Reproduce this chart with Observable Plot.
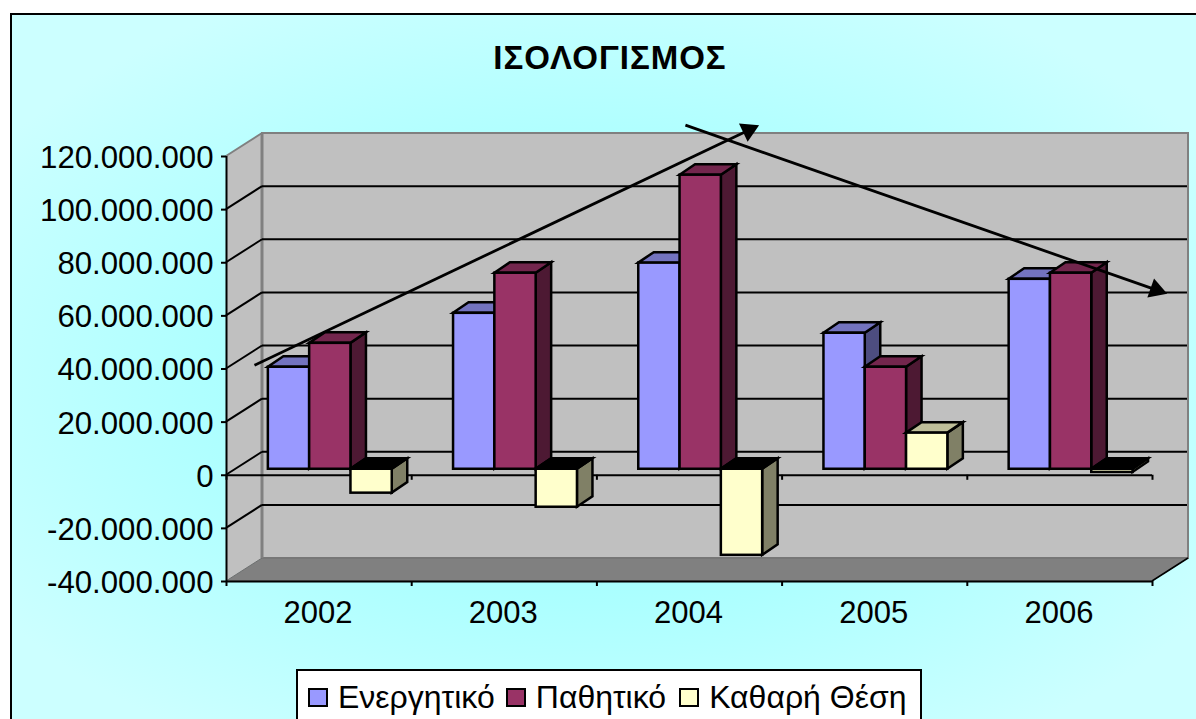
<!DOCTYPE html>
<html lang="el">
<head>
<meta charset="utf-8">
<script src="https://cdn.jsdelivr.net/npm/d3@7"></script>
<script src="https://cdn.jsdelivr.net/npm/@observablehq/plot@0.6"></script>
<style>
  html, body { margin: 0; padding: 0; width: 1196px; height: 719px; overflow: hidden; background: #fff; }
  #frame {
    position: absolute; left: 10px; top: 13px; width: 1300px; height: 800px;
    border-left: 2px solid #000; border-top: 2px solid #000;
    background: radial-gradient(ellipse 720px 430px at 590px 365px, #a8ffff 45%, #ccffff 100%);
    font-family: "Liberation Sans", Arial, sans-serif; color: #000;
  }
  #title { width: 1196px; height: 91px; box-sizing: border-box; padding: 24px 0 0 0; text-align: center;
    font-size: 33px; letter-spacing: 1px; font-weight: bold; line-height: 38px; position: relative; }
  #chart svg { display: block; }
  #legend {
    position: relative; margin: 33px 0 0 284px; width: 622px; height: 60px; background: #fff;
    border: 2px solid #000; box-sizing: content-box; white-space: nowrap;
    display: flex; align-items: flex-start; padding: 0; font-size: 32px; line-height: 34px;
  }
  #legend .item { display: flex; align-items: center; margin-top: 9px; }
  #legend .sw { display: inline-block; width: 16px; height: 15px; border: 2px solid #000; margin: 0 10px 0 0; }
</style>
</head>
<body>
<div id="frame">
  <div id="title"></div>
  <div id="chart"></div>
  <div id="legend"></div>
</div>
<script>
const titleText = "ΙΣΟΛΟΓΙΣΜΟΣ";
const years = [2002, 2003, 2004, 2005, 2006];
const seriesNames = ["Ενεργητικό", "Παθητικό", "Καθαρή Θέση"];
const assets      = [38400000, 58700000, 77600000, 51200000, 71500000];
const liabilities = [47400000, 73800000, 110700000, 38400000, 73800000];
const equity      = [-9000000, -14300000, -32400000, 13600000, -1200000];
const frontColors = ["#9999ff", "#993366", "#ffffcc"];
const topColors   = ["#7373bf", "#73264d", "#bfbf99"];
const sideColors  = ["#4d4d80", "#4d1933", "#808066"];
const yTicks = [-40000000, -20000000, 0, 20000000, 40000000, 60000000, 80000000, 100000000, 120000000];
const gridValues = [-20000000, 0, 20000000, 40000000, 60000000, 80000000, 100000000];
const yearEdges = [2001.5, 2002.5, 2003.5, 2004.5, 2005.5, 2006.5];
const trendUp   = {x1: 2001.651, y1: 41400000, x2: 2004.319, y2: 129900000, rotate: 64.6};
const trendDown = {x1: 2003.978, y1: 131800000, x2: 2006.52, y2: 69800000, rotate: 109.3};

const wallDx = 36, wallDy = -23;      // depth of the chart box, px
const barDx = 15.5, barDy = -10.5;    // depth of each bar, px
const rowDx = 10, rowDy = -6;         // position of the bar row within the box, px
const barSpan = 0.223, groupStart = -0.328;
const barStroke = 2.5;

const NS = "http://www.w3.org/2000/svg";
function poly(g, pts, fill, stroke, sw) {
  const p = document.createElementNS(NS, "polygon");
  p.setAttribute("points", pts.map(d => d.join(",")).join(" "));
  p.setAttribute("fill", fill);
  if (stroke) { p.setAttribute("stroke", stroke); p.setAttribute("stroke-width", sw); }
  g.appendChild(p);
}
function line(g, a, b, stroke, sw) {
  const l = document.createElementNS(NS, "line");
  l.setAttribute("x1", a[0]); l.setAttribute("y1", a[1]);
  l.setAttribute("x2", b[0]); l.setAttribute("y2", b[1]);
  l.setAttribute("stroke", stroke); l.setAttribute("stroke-width", sw);
  g.appendChild(l);
}

// the box: side wall, back wall, floor and gridlines
function walls(index, {x, y}) {
  const g = document.createElementNS(NS, "g");
  const x0 = x(yearEdges[0]), x1 = x(yearEdges[yearEdges.length - 1]);
  const yb = y(yTicks[0]), yt = y(yTicks[yTicks.length - 1]);
  poly(g, [[x0, yb], [x0 + wallDx, yb + wallDy], [x0 + wallDx, yt + wallDy], [x0, yt]], "#c0c0c0");
  poly(g, [[x0 + wallDx, yb + wallDy], [x1 + wallDx, yb + wallDy], [x1 + wallDx, yt + wallDy], [x0 + wallDx, yt + wallDy]], "#c0c0c0", "#808080", 2);
  poly(g, [[x0, yb], [x0 + wallDx, yb + wallDy], [x1 + wallDx, yb + wallDy], [x1, yb]], "#808080", "#6e6e6e", 1);
  line(g, [x0, yt], [x0 + wallDx, yt + wallDy], "#808080", 2);
  line(g, [x1, yb], [x1 + wallDx, yb + wallDy], "#000", 1.5);
  line(g, [x0 + wallDx, yb + wallDy], [x0 + wallDx, yt + wallDy], "#808080", 3);
  for (const v of gridValues) {
    line(g, [x0, y(v)], [x0 + wallDx, y(v) + wallDy], "#000", 2);
    line(g, [x0 + wallDx, y(v) + wallDy], [x1 + wallDx - 1, y(v) + wallDy], "#000", 2);
  }
  return g;
}

// side and top faces of one series
function faces(values, k) {
  return function (index, {x, y}) {
    const g = document.createElementNS(NS, "g");
    values.forEach((v, i) => {
      const xa = x(years[i] + groupStart + k * barSpan) + rowDx;
      const xb = x(years[i] + groupStart + (k + 1) * barSpan) + rowDx;
      const yTop = Math.min(y(0), y(v)) + rowDy, yBot = Math.max(y(0), y(v)) + rowDy;
      poly(g, [[xb, yTop], [xb + barDx, yTop + barDy], [xb + barDx, yBot + barDy], [xb, yBot]], sideColors[k], "#000", barStroke);
      poly(g, [[xa, yTop], [xa + barDx, yTop + barDy], [xb + barDx, yTop + barDy], [xb, yTop]], v < 0 ? "#000" : topColors[k], "#000", barStroke);
    });
    return g;
  };
}

function fronts(values, k) {
  return Plot.rect(values.map((v, i) => ({year: years[i], value: v})), {
    x1: d => d.year + groupStart + k * barSpan,
    x2: d => d.year + groupStart + (k + 1) * barSpan,
    y1: 0,
    y2: "value",
    fill: frontColors[k],
    stroke: "#000",
    strokeWidth: barStroke,
    dx: rowDx,
    dy: rowDy
  });
}

const numFmt = d3.formatLocale({decimal: ",", thousands: ".", grouping: [3], currency: ["", ""], minus: "-"}).format(",");
const seriesValues = [assets, liabilities, equity];

const chart = Plot.plot({
  width: 1184,
  height: 530,
  marginLeft: 214,
  marginRight: 44,
  marginTop: 50,
  marginBottom: 55,
  style: {background: "transparent", fontFamily: "'Liberation Sans', Arial, sans-serif", overflow: "visible"},
  x: {domain: [yearEdges[0], yearEdges[yearEdges.length - 1]]},
  y: {domain: [yTicks[0], yTicks[yTicks.length - 1]]},
  marks: [
    walls,
    Plot.ruleY([0], {x1: yearEdges[0], x2: yearEdges[yearEdges.length - 1], stroke: "#000", strokeWidth: 2}),
    Plot.ruleY([yTicks[0]], {x1: yearEdges[0], x2: yearEdges[yearEdges.length - 1], stroke: "#000", strokeWidth: 2}),
    Plot.ruleX(yearEdges, {y1: 0, y2: -1900000, stroke: "#000", strokeWidth: 2}),
    Plot.ruleX(yearEdges.slice(0, 1), {y1: yTicks[0], y2: yTicks[yTicks.length - 1], stroke: "#000", strokeWidth: 2}),
    Plot.axisY({ticks: yTicks, tickFormat: () => "", tickSize: 5, strokeWidth: 2, label: null}),
    Plot.axisY({ticks: yTicks, tickFormat: numFmt, tickSize: 0, tickPadding: 13, fontSize: 31.2, dy: 1.5, label: null, fill: "#000"}),
    Plot.axisX({ticks: yearEdges, tickFormat: () => "", tickSize: 5, strokeWidth: 2, label: null}),
    Plot.axisX({ticks: years, tickFormat: d => String(d), tickSize: 0, tickPadding: 19, fontSize: 31, dx: -1, label: null, fill: "#000"}),
    ...seriesValues.flatMap((vals, k) => [faces(vals, k), fronts(vals, k)]),
    Plot.link([trendUp, trendDown], {x1: "x1", y1: "y1", x2: "x2", y2: "y2", stroke: "#000", strokeWidth: 2.8}),
    Plot.dot([trendUp, trendDown], {x: "x2", y: "y2", symbol: "triangle", r: 7.5, rotate: "rotate", fill: "#000", stroke: "none"})
  ]
});
document.getElementById("chart").appendChild(chart);
document.getElementById("title").textContent = titleText;
const legend = document.getElementById("legend");
seriesNames.forEach((name, k) => {
  const item = document.createElement("div");
  item.className = "item";
  item.style.marginLeft = ["10px", "11px", "13px"][k];
  const sw = document.createElement("span");
  sw.className = "sw";
  sw.style.background = frontColors[k];
  const label = document.createElement("span");
  label.textContent = name;
  item.append(sw, label);
  legend.appendChild(item);
});
</script>
</body>
</html>
